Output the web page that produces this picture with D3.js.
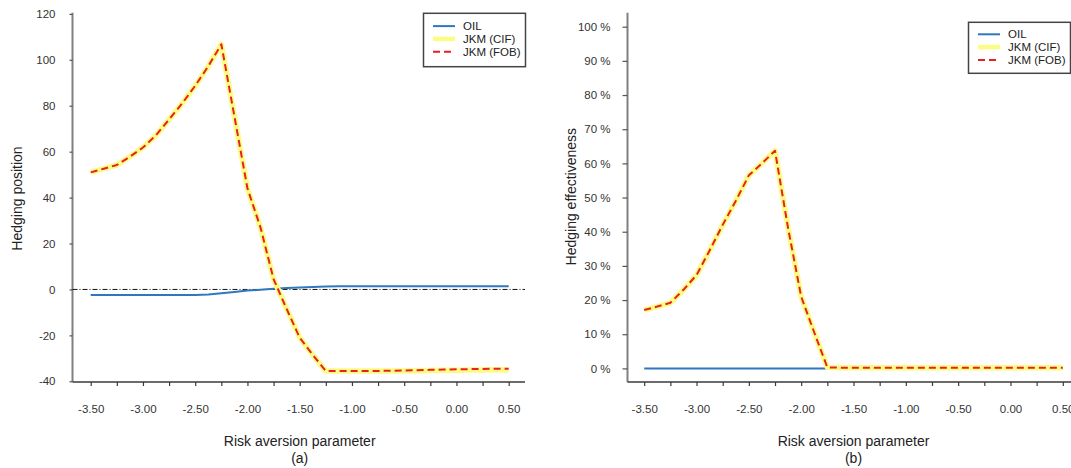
<!DOCTYPE html>
<html>
<head>
<meta charset="utf-8">
<script src="https://cdn.jsdelivr.net/npm/d3@7"></script>
<style>
  html, body { margin: 0; padding: 0; background: #fff; }
  svg { display: block; font-family: "Liberation Sans", Arial, sans-serif; }
</style>
</head>
<body>
<svg id="chart" width="1071" height="468"></svg>
<script>
// Risk aversion parameter grid
const riskAversion = [
  -3.5, -3.375, -3.25, -3.125, -3.0, -2.875, -2.75, -2.625, -2.5, -2.375, -2.25,
  -2.125, -2.0, -1.875, -1.75, -1.625, -1.5, -1.375, -1.25, -1.125, -1.0,
  -0.875, -0.75, -0.625, -0.5, -0.375, -0.25, -0.125, 0.0, 0.125, 0.25, 0.375, 0.5
];

// (a) Hedging positions
const positionOil = [
  -2.4, -2.4, -2.4, -2.4, -2.4, -2.4, -2.4, -2.4, -2.4, -2.2, -1.7,
  -1.1, -0.5, -0.1, 0.3, 0.6, 0.9, 1.1, 1.3, 1.4, 1.4,
  1.4, 1.4, 1.4, 1.4, 1.4, 1.4, 1.4, 1.4, 1.4, 1.4, 1.4, 1.4
];
const positionJkmCif = [
  51.0, 52.6, 54.2, 57.8, 61.8, 67.2, 74.0, 81.0, 88.7, 97.2, 106.8,
  75.4, 44.0, 27.0, 4.5, -8.5, -21.0, -28.5, -35.5, -35.5, -35.5,
  -35.5, -35.5, -35.5, -35.4, -35.4, -35.3, -35.2, -35.2, -35.1, -35.1, -35.0, -35.0
];
const positionJkmFob = [
  51.0, 52.6, 54.2, 57.8, 61.8, 67.2, 74.0, 81.0, 88.7, 97.2, 106.8,
  75.4, 44.0, 27.0, 4.5, -8.5, -21.0, -28.5, -35.5, -35.5, -35.5,
  -35.5, -35.5, -35.4, -35.3, -35.2, -35.0, -34.9, -34.8, -34.7, -34.6, -34.5, -34.5
];

// (b) Hedging effectiveness (share)
const effectOil = [
  0, 0, 0, 0, 0, 0, 0, 0, 0, 0, 0,
  0, 0, 0, 0, 0, 0, 0, 0, 0, 0,
  0, 0, 0, 0, 0, 0, 0, 0, 0, 0, 0, 0
];
const effectJkmCif = [
  0.171, 0.181, 0.192, 0.230, 0.273, 0.345, 0.420, 0.490, 0.565, 0.600, 0.637,
  0.410, 0.210, 0.105, 0.003, 0.002, 0.002, 0.002, 0.002, 0.002, 0.002,
  0.002, 0.002, 0.002, 0.002, 0.002, 0.002, 0.002, 0.002, 0.002, 0.002, 0.002, 0.002
];
const effectJkmFob = [
  0.171, 0.181, 0.192, 0.230, 0.273, 0.345, 0.420, 0.490, 0.565, 0.600, 0.637,
  0.410, 0.210, 0.105, 0.003, 0.002, 0.002, 0.002, 0.002, 0.002, 0.002,
  0.002, 0.002, 0.002, 0.002, 0.002, 0.002, 0.002, 0.002, 0.002, 0.002, 0.002, 0.002
];

// Axis ticks and labels
const xLabelTicks = [-3.5, -3.0, -2.5, -2.0, -1.5, -1.0, -0.5, 0.0, 0.5];
const xMinorTicks = [-3.25, -2.75, -2.25, -1.75, -1.25, -0.75, -0.25, 0.25];
const positionTicks = [-40, -20, 0, 20, 40, 60, 80, 100, 120];
const effectTicks = [0, 0.1, 0.2, 0.3, 0.4, 0.5, 0.6, 0.7, 0.8, 0.9, 1.0];
const seriesNames = ["OIL", "JKM (CIF)", "JKM (FOB)"];
const xTitle = "Risk aversion parameter";

const seriesStyle = [
  { stroke: "#2f78bf", width: 2, dash: null },
  { stroke: "#fdfc82", width: 5.5, dash: null },
  { stroke: "#e5202a", width: 2, dash: "7,4" }
];

const svg = d3.select("#chart");

function drawPanel(cfg) {
  const g = svg.append("g");
  const x = d3.scaleLinear().domain([-3.5, 0.5]).range(cfg.xRange);
  const y = d3.scaleLinear().domain(cfg.yDomain).range(cfg.yRange);

  // axis lines
  g.append("line")
    .attr("x1", cfg.axisX).attr("x2", cfg.axisX)
    .attr("y1", cfg.axisTop).attr("y2", cfg.axisY)
    .attr("stroke", "#808080").attr("stroke-width", 2);
  g.append("line")
    .attr("x1", cfg.axisX).attr("x2", cfg.axisRight)
    .attr("y1", cfg.axisY).attr("y2", cfg.axisY)
    .attr("stroke", "#3a3a3a").attr("stroke-width", 1.5);

  // x axis (labelled + minor ticks)
  const xAxis = d3.axisBottom(x)
    .tickValues(xLabelTicks)
    .tickSize(4).tickPadding(19)
    .tickFormat(d => d.toFixed(2));
  const xg = g.append("g").attr("transform", `translate(0,${cfg.axisY})`).call(xAxis);
  xg.select(".domain").remove();
  xg.selectAll(".tick line").attr("stroke", "#3a3a3a").attr("stroke-width", 1.2);
  xg.selectAll(".tick text").attr("fill", "#333").attr("font-size", 11.5)
    .attr("font-family", "Liberation Sans, Arial, sans-serif");
  const xm = g.append("g").attr("transform", `translate(0,${cfg.axisY})`)
    .call(d3.axisBottom(x).tickValues(xMinorTicks).tickSize(4).tickFormat(""));
  xm.select(".domain").remove();
  xm.selectAll(".tick line").attr("stroke", "#3a3a3a").attr("stroke-width", 1.2);

  // y axis
  const yAxis = d3.axisLeft(y)
    .tickValues(cfg.yTicks)
    .tickSize(cfg.yTickSize).tickPadding(cfg.yTickPad)
    .tickFormat(cfg.yFormat);
  const yg = g.append("g").attr("transform", `translate(${cfg.axisX},0)`).call(yAxis);
  yg.select(".domain").remove();
  yg.selectAll(".tick line").attr("stroke", "#555").attr("stroke-width", 1.2);
  yg.selectAll(".tick text").attr("fill", "#333").attr("font-size", 11.5)
    .attr("font-family", "Liberation Sans, Arial, sans-serif");

  // zero reference line
  if (cfg.zeroLine) {
    g.append("line")
      .attr("x1", cfg.axisX).attr("x2", cfg.axisRight)
      .attr("y1", y(0)).attr("y2", y(0))
      .attr("stroke", "#111").attr("stroke-width", 1)
      .attr("stroke-dasharray", "5,2,1,2");
  }

  // series
  const line = d3.line().x((d, i) => x(riskAversion[i])).y(d => y(d));
  cfg.series.forEach((vals, k) => {
    const s = seriesStyle[k];
    g.append("path")
      .attr("d", line(vals))
      .attr("fill", "none")
      .attr("stroke", s.stroke)
      .attr("stroke-width", s.width)
      .attr("stroke-linejoin", "round")
      .attr("stroke-dasharray", s.dash);
  });

  // titles
  const midX = x(-1.5);
  g.append("text").attr("x", midX).attr("y", 446)
    .attr("text-anchor", "middle").attr("font-size", 14).attr("fill", "#222")
    .text(xTitle);
  g.append("text").attr("x", midX).attr("y", 463)
    .attr("text-anchor", "middle").attr("font-size", 14).attr("fill", "#222")
    .text(cfg.panelTag);
  g.append("text")
    .attr("transform", `translate(${cfg.yTitleX},${cfg.yTitleY}) rotate(-90)`)
    .attr("text-anchor", "middle").attr("font-size", 14).attr("fill", "#222")
    .text(cfg.yTitle);

  // legend
  const lg = g.append("g").attr("transform", `translate(${cfg.legendX},${cfg.legendY})`);
  lg.append("rect").attr("x", 0).attr("y", 0).attr("width", 102).attr("height", cfg.legendH)
    .attr("fill", "#fff").attr("stroke", "#444").attr("stroke-width", 1.5);
  seriesNames.forEach((name, k) => {
    const s = seriesStyle[k];
    const yy = cfg.legendRow0 + k * 12.8;
    lg.append("line").attr("x1", 9.5).attr("x2", 31.5).attr("y1", yy).attr("y2", yy)
      .attr("stroke", s.stroke).attr("stroke-width", k === 1 ? 4.5 : 2)
      .attr("stroke-dasharray", s.dash);
    lg.append("text").attr("x", 39.5).attr("y", yy + 4.2)
      .attr("font-size", 11.5).attr("fill", "#222").text(name);
  });
}

drawPanel({
  xRange: [90.7, 508.7],
  yDomain: [-40, 120], yRange: [381.3, 13.9],
  axisX: 72.5, axisTop: 12.7, axisY: 382, axisRight: 525,
  yTicks: positionTicks, yTickSize: 3, yTickPad: 14,
  yFormat: d => String(d),
  zeroLine: true,
  series: [positionOil, positionJkmCif, positionJkmFob],
  panelTag: "(a)",
  yTitle: "Hedging position", yTitleX: 22, yTitleY: 198.5,
  legendX: 423.5, legendY: 13.3, legendH: 53.4, legendRow0: 12.8
});

drawPanel({
  xRange: [644.2, 1062.8],
  yDomain: [0, 1], yRange: [368.4, 26.7],
  axisX: 627.5, axisTop: 12.7, axisY: 382, axisRight: 1071,
  yTicks: effectTicks, yTickSize: 5, yTickPad: 12,
  yFormat: d => Math.round(d * 100) + " %",
  zeroLine: false,
  series: [effectOil, effectJkmCif, effectJkmFob],
  panelTag: "(b)",
  yTitle: "Hedging effectiveness", yTitleX: 576, yTitleY: 196.7,
  legendX: 968.5, legendY: 22.3, legendH: 51, legendRow0: 12
});
</script>
</body>
</html>
